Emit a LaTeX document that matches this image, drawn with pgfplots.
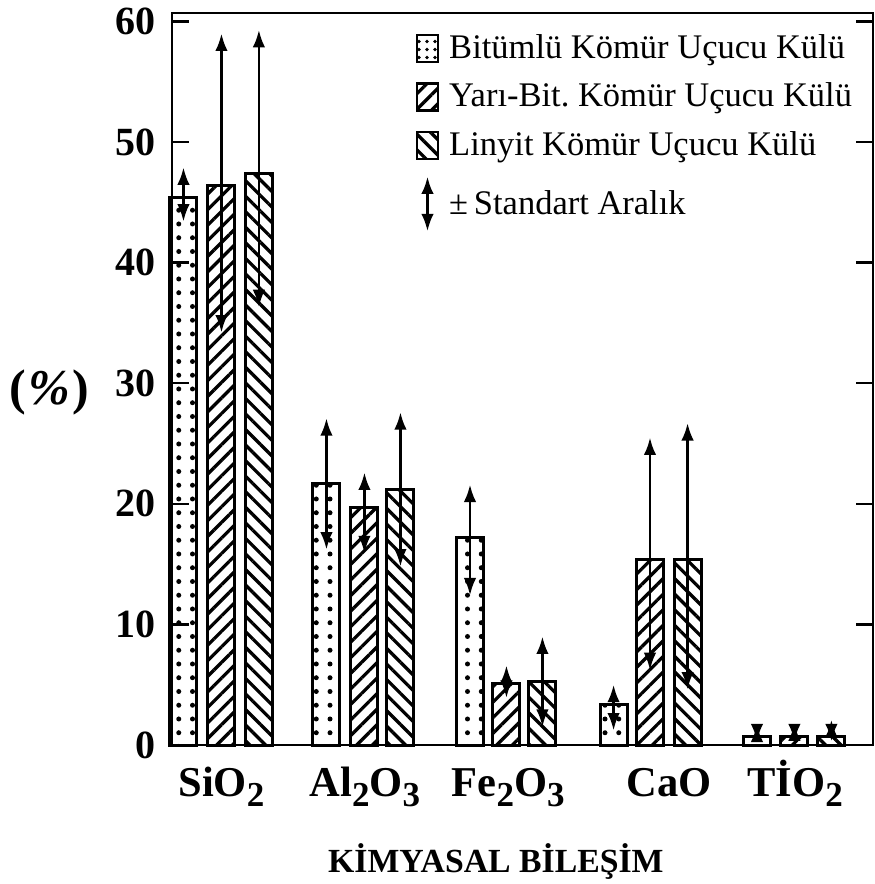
\documentclass[border=0pt]{standalone}
\usepackage{pgfplots}
\pgfplotsset{compat=1.18}
\usepackage{fontspec}
\setmainfont{Liberation Serif}
\usetikzlibrary{patterns.meta,arrows.meta}
\newcommand{\sub}[1]{\raisebox{-0.5ex}{\fontsize{14}{14}\selectfont #1}}
\tikzset{
  dotpat/.style={pattern={Dots[distance=5.5pt,radius=1pt]}},
  ldotpat/.style={pattern={Dots[distance=3.2pt,radius=0.75pt,xshift=1.2pt,yshift=1pt]}},
  nepat/.style={pattern={Lines[angle=45,distance=4.4pt,line width=1.3pt]}},
  nwpat/.style={pattern={Lines[angle=-45,distance=4.4pt,line width=1.3pt]}},
  ebar/.style={line width=1.1pt, solid, draw=black, -{Latex[length=7pt,width=5pt,fill=black]}},
}
\begin{document}
\begin{tikzpicture}
\begin{axis}[
  scale only axis, width=280.4pt, height=292.8pt,
  xmin=-0.345, xmax=4.543, ymin=0, ymax=60.7,
  axis line style={line width=1.1pt},
  bar width=10.8pt,
  ytick={0,10,...,60},
  ytick pos=both, yticklabel pos=left,
  tick align=inside, major tick length=7pt,
  ytick style={line width=1pt, black},
  xtick={0,1,2,3,4},
  xticklabels={SiO\sub{2}, Al\sub{2}O\sub{3}, Fe\sub{2}O\sub{3}, \hspace*{14pt}CaO, TİO\sub{2}},
  xtick style={draw=none},
  xticklabel style={font=\bfseries\fontsize{17}{17}\selectfont, yshift=-5pt, text height=12pt},
  yticklabel style={font=\bfseries\fontsize{16}{16}\selectfont, xshift=-3pt},
  /pgf/number format/assume math mode=true,
  legend style={draw=none, fill=none, at={(rel axis cs:0.347,0.978)}, anchor=north west,
    font=\fontsize{13.8}{16}\selectfont, row sep=4.3pt, column sep=2pt, inner sep=0pt},
  legend cell align=left,
  clip=false,
]
\addlegendimage{legend image code/.code={\draw[line width=1pt,ldotpat] (0pt,-5.4pt) rectangle (8.4pt,5.4pt);}}
\addlegendentry{Bitümlü Kömür Uçucu Külü}
\addlegendimage{legend image code/.code={\draw[line width=1pt,nepat] (0pt,-5.4pt) rectangle (8.4pt,5.4pt);}}
\addlegendentry{Yarı-Bit.\ Kömür Uçucu Külü}
\addlegendimage{legend image code/.code={\draw[line width=1pt,nwpat] (0pt,-5.4pt) rectangle (8.4pt,5.4pt);}}
\addlegendentry{Linyit Kömür Uçucu Külü}
\addlegendimage{legend image code/.code={\draw[line width=1.2pt,{Latex[length=7pt,width=5pt]}-{Latex[length=7pt,width=5pt]}] (4.2pt,-11pt) -- (4.2pt,11pt);}}
\addlegendentry{±\,Standart Aralık}

% Bitumlu
\addplot[ybar, bar shift=0pt, draw=black, line width=1.2pt, dotpat, forget plot,
  error bars/.cd, y dir=both, y explicit, error mark=none, error bar style={ebar}]
coordinates {
 (-0.265,45.4) += (0,2.5) -= (0,2.0)
 (0.732,21.7) += (0,5.4) -= (0,5.5)
 (1.733,17.2) += (0,4.4) -= (0,4.8)
 (2.734,3.4) += (0,1.6) -= (0,2.2)
 (3.734,0.7) += (0,1.0) -= (0,0.4)
};
% Yari-Bit
\addplot[ybar, bar shift=0pt, draw=black, line width=1.2pt, nepat, forget plot,
  error bars/.cd, y dir=both, y explicit, error mark=none, error bar style={ebar}]
coordinates {
 (0,46.4) += (0,12.6) -= (0,12.2)
 (0.997,19.7) += (0,2.9) -= (0,3.8)
 (1.987,5.1) += (0,1.5) -= (0,1.2)
 (2.988,15.4) += (0,10.1) -= (0,9.2)
 (3.995,0.7) += (0,1.1) -= (0,0.4)
};
% Linyit
\addplot[ybar, bar shift=0pt, draw=black, line width=1.2pt, nwpat, forget plot,
  error bars/.cd, y dir=both, y explicit, error mark=none, error bar style={ebar}]
coordinates {
 (0.261,47.4) += (0,11.9) -= (0,11.1)
 (1.248,21.2) += (0,6.4) -= (0,6.4)
 (2.238,5.3) += (0,3.7) -= (0,3.8)
 (3.25,15.4) += (0,11.3) -= (0,10.8)
 (4.253,0.7) += (0,1.4) -= (0,0.4)
};
\coordinate (bl) at (rel axis cs:0,0);
\coordinate (tr) at (rel axis cs:1,1);
\node[font=\bfseries\fontsize{20}{20}\selectfont, xshift=-49.2pt] at (rel axis cs:0,0.482) {(\kern1.2pt\textit{\%}\kern0.8pt)};
\node[font=\bfseries\fontsize{13.5}{13.5}\selectfont, yshift=-46.8pt] at (rel axis cs:0.462,0) {KİMYASAL BİLEŞİM};
\end{axis}
\pgfresetboundingbox
\path (bl) ++(-68.8pt,-55.6pt) coordinate (A);
\path (tr) ++(0.8pt,5.2pt) coordinate (B);
\path[use as bounding box] (A) rectangle (B);
\end{tikzpicture}
\end{document}
